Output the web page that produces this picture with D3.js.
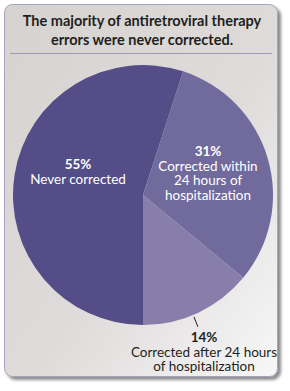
<!DOCTYPE html>
<html>
<head>
<meta charset="utf-8">
<script src="https://cdn.jsdelivr.net/npm/d3@7"></script>
<style>
  body { margin: 0; background: #fff; }
  svg { display: block; }
</style>
</head>
<body>
<svg id="chart" width="290" height="391"></svg>
<script>
// data
let categories = ["Never corrected", "Corrected within 24 hours of hospitalization", "Corrected after 24 hours of hospitalization"]
let values = [55, 31, 14]
let sliceColors = ["#544d87", "#716a9d", "#877eac"]
let titleLines = ["The majority of antiretroviral therapy", "errors were never corrected."]
let labelLines = [
  ["Never corrected"],
  ["Corrected within", "24 hours of", "hospitalization"],
  ["Corrected after 24 hours", "of hospitalization"]
]

let svg = d3.select("#chart")
let font = "Lato, 'Open Sans', sans-serif"

let defs = svg.append("defs")
let grad = defs.append("linearGradient")
  .attr("id", "bg")
  .attr("x1", "0").attr("y1", "0")
  .attr("x2", "1").attr("y2", "1")
grad.append("stop").attr("offset", "0").attr("stop-color", "#d6d2d0")
grad.append("stop").attr("offset", "0.55").attr("stop-color", "#dedbda")
grad.append("stop").attr("offset", "1").attr("stop-color", "#f7f7f7")

let shadow = defs.append("filter").attr("id", "shadow")
  .attr("x", "-10%").attr("y", "-10%").attr("width", "120%").attr("height", "120%")
shadow.append("feGaussianBlur").attr("in", "SourceAlpha").attr("stdDeviation", 1.8)
shadow.append("feOffset").attr("dx", 3).attr("dy", 3).attr("result", "off")
shadow.append("feComponentTransfer").append("feFuncA").attr("type", "linear").attr("slope", 0.45)
let merge = shadow.append("feMerge")
merge.append("feMergeNode")
merge.append("feMergeNode").attr("in", "SourceGraphic")

// card
svg.append("rect")
  .attr("x", 4.5).attr("y", 4.5)
  .attr("width", 273).attr("height", 372)
  .attr("rx", 8)
  .attr("fill", "url(#bg)")
  .attr("stroke", "#a7a2bf")
  .attr("stroke-width", 1)
  .attr("filter", "url(#shadow)")

// title
svg.append("g").selectAll("text")
  .data(titleLines)
  .join("text")
  .attr("x", 142)
  .attr("y", (d, i) => 26 + i * 19)
  .attr("text-anchor", "middle")
  .style("font-family", font)
  .style("font-weight", "bold")
  .style("font-size", "14.5px")
  .style("fill", "#231f20")
  .text(d => d)

svg.append("line")
  .attr("x1", 10).attr("x2", 272)
  .attr("y1", 53.5).attr("y2", 53.5)
  .attr("stroke", "#9d98b6")
  .attr("stroke-width", 1)

// pie
let cx = 143, cy = 195, radius = 130
let pie = d3.pie().sort(null).value(d => d).startAngle(Math.PI).endAngle(3 * Math.PI)
let arcs = pie(values)
let arc = d3.arc().innerRadius(0).outerRadius(radius)

let g = svg.append("g").attr("transform", `translate(${cx},${cy})`)
g.selectAll("path")
  .data(arcs)
  .join("path")
  .attr("d", arc)
  .attr("fill", (d, i) => sliceColors[i])

// labels
function label(x, y, idx, color) {
  let t = svg.append("text")
    .attr("text-anchor", "middle")
    .style("font-family", font)
    .style("font-size", "13.5px")
    .style("fill", color)
  t.append("tspan")
    .attr("x", x).attr("y", y)
    .style("font-weight", "bold")
    .text(values[idx] + "%")
  labelLines[idx].forEach((line, j) => {
    t.append("tspan")
      .attr("x", x).attr("y", y + 14.5 * (j + 1))
      .text(line)
  })
}
label(78, 169, 0, "#ffffff")
label(208, 156, 1, "#ffffff")

// leader line for small slice
let a = arcs[2]
let ang = a.startAngle + 0.55 * (a.endAngle - a.startAngle)
let p1 = [Math.sin(ang) * (radius + 2), -Math.cos(ang) * (radius + 2)]
g.append("line")
  .attr("x1", p1[0]).attr("y1", p1[1])
  .attr("x2", p1[0] + 4).attr("y2", p1[1] + 10)
  .attr("stroke", "#231f20")
  .attr("stroke-width", 1)

label(204, 342, 2, "#231f20")
</script>
</body>
</html>
